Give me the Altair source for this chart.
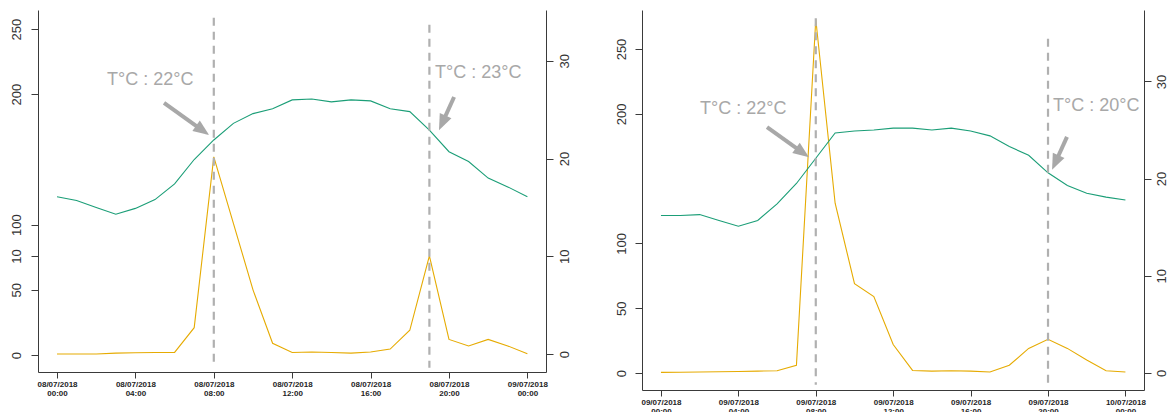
import json
import math
import altair as alt
import pandas as pd

HOURS = list(range(25))

# 08/07/2018 : temperature (°C, right axis) and counts (left axis), hourly
temp_day1 = [16.1, 15.7, 15.0, 14.3, 14.9, 15.8, 17.4, 19.9, 21.9, 23.6, 24.6, 25.1, 26.0,
             26.1, 25.8, 26.0, 25.9, 25.1, 24.8, 22.9, 20.7, 19.7, 18.0, 17.1, 16.1]
count_day1 = [0.8, 0.8, 0.8, 1.5, 1.8, 2.0, 2.0, 21, 152, 101, 50, 9, 2.0,
              2.3, 2.0, 1.5, 2.3, 4.6, 19, 76, 12, 7, 12, 7, 1.0]

# 09/07/2018
temp_day2 = [16.2, 16.2, 16.3, 15.7, 15.1, 15.7, 17.4, 19.5, 22.1, 24.7, 24.9, 25.0, 25.2,
             25.2, 25.0, 25.2, 24.9, 24.4, 23.3, 22.4, 20.6, 19.3, 18.5, 18.1, 17.8]
count_day2 = [0.5, 0.6, 0.8, 1.0, 1.2, 1.5, 1.8, 6, 273, 131, 69, 59, 22,
              2.0, 1.5, 1.8, 1.5, 0.8, 6, 19, 26, 19, 10, 1.8, 0.8]

X_TICKS = [0, 4, 8, 12, 16, 20, 24]
TIME_LABELS = ["00:00", "04:00", "08:00", "12:00", "16:00", "20:00", "00:00"]
DATES_DAY1 = ["08/07/2018"] * 6 + ["09/07/2018"]
DATES_DAY2 = ["09/07/2018"] * 6 + ["10/07/2018"]

LEFT_TICKS = [0, 50, 100, 200, 250]
LEFT_LABELS = ["0", "50", "100", "200", "250"]
RIGHT_TICKS = [0, 10, 20, 30]

# marked hours with the temperature read there
marks_day1 = {"hour": [8, 19], "top": [34.4, 33.7], "bottom": [-1.4, -1.4]}
marks_day2 = {"hour": [8, 20], "top": [36.5, 34.4], "bottom": [-1.2, -1.2]}
notes_day1 = {"hour": [2.55, 19.29], "temp": [27.5, 28.25], "text": ["T°C : 22°C", "T°C : 23°C"]}
notes_day2 = {"hour": [2.02, 20.26], "temp": [26.6, 26.95], "text": ["T°C : 22°C", "T°C : 20°C"]}
arrows_day1 = {"h0": [5.46, 20.26], "t0": [25.7, 26.3], "h1": [7.76, 19.49], "t1": [22.4, 22.9]}
arrows_day2 = {"h0": [5.48, 20.98], "t0": [25.3, 24.3], "h1": [7.65, 20.21], "t1": [22.2, 20.9]}

GREEN = "#1b9e77"
YELLOW = "#e6ab02"
GREY = "#a8a8a8"
FONT = "Liberation Sans"
HEAD_LEN = 16


def lookup_expr(values, labels):
    return f"{json.dumps(labels)}[indexof({json.dumps(values)}, datum.value)]"


def panel(temp, count, dates, width, height, xdom, cdom, tdom,
          left_vals, left_labels, marks, notes, arrows, left_pad, right_pad):
    x_axis = alt.Axis(values=X_TICKS, labelExpr=lookup_expr(X_TICKS, [[d, t] for d, t in zip(dates, TIME_LABELS)]),
                      title=None, grid=False, labelFontSize=8, labelFontWeight="bold", labelColor="#1e1e1e",
                      labelLineHeight=9, tickSize=6, labelPadding=2, labelAngle=0,
                      labelFlush=False, labelOverlap=False)
    xs = alt.Scale(domain=xdom, nice=False, zero=False)
    cs = alt.Scale(domain=cdom, nice=False, zero=False)
    ts = alt.Scale(domain=tdom, nice=False, zero=False)
    left_axis = alt.Axis(orient="left", values=left_vals, labelExpr=lookup_expr(left_vals, left_labels),
                         title=None, grid=False, labelAngle=270, labelAlign="center", labelBaseline="bottom",
                         labelFontSize=13, tickSize=7, labelPadding=left_pad,
                         labelFlush=False, labelOverlap=False)
    right_axis = alt.Axis(orient="right", values=RIGHT_TICKS, title=None, grid=False, labelAngle=270,
                          labelAlign="center", labelBaseline="top", labelFontSize=13, tickSize=7,
                          labelPadding=right_pad, labelFlush=False, labelOverlap=False)

    series = pd.DataFrame({"hour": HOURS, "temp": temp, "count": count})

    count_line = alt.Chart(series).mark_line(color=YELLOW, strokeWidth=1.1).encode(
        x=alt.X("hour:Q", scale=xs, axis=x_axis),
        y=alt.Y("count:Q", scale=cs, axis=left_axis),
    )
    temp_line = alt.Chart(series).mark_line(color=GREEN, strokeWidth=1.1).encode(
        x=alt.X("hour:Q", scale=xs, axis=x_axis),
        y=alt.Y("temp:Q", scale=ts, axis=right_axis),
    )
    rules = alt.Chart(pd.DataFrame(marks)).mark_rule(color="#b0b0b0", strokeWidth=2.2, strokeDash=[8, 6]).encode(
        x=alt.X("hour:Q", scale=xs, axis=x_axis),
        y=alt.Y("top:Q", scale=ts, axis=right_axis),
        y2="bottom:Q",
    )
    texts = alt.Chart(pd.DataFrame(notes)).mark_text(
        align="left", baseline="alphabetic", fontSize=18, font=FONT, color=GREY
    ).encode(
        x=alt.X("hour:Q", scale=xs, axis=x_axis),
        y=alt.Y("temp:Q", scale=ts, axis=right_axis),
        text="text:N",
    )

    # arrow geometry in pixels per data unit, used to orient the heads
    kx = width / (xdom[1] - xdom[0])
    ky = height / (tdom[1] - tdom[0])
    arr = pd.DataFrame(arrows)
    ang, hs, ts_ = [], [], []
    for h0, t0, h1, t1 in zip(arr.h0, arr.t0, arr.h1, arr.t1):
        dx = (h1 - h0) * kx
        dy = -(t1 - t0) * ky
        n = math.hypot(dx, dy)
        ang.append(math.degrees(math.atan2(dx, -dy)) % 360)
        back = HEAD_LEN - 3
        hs.append(h1 - dx / n * back / kx)
        ts_.append(t1 + dy / n * back / ky)
    arr["angle"] = ang
    arr["hs"] = hs
    arr["ts"] = ts_

    shafts = alt.Chart(arr).mark_rule(color=GREY, strokeWidth=4).encode(
        x=alt.X("h0:Q", scale=xs, axis=x_axis),
        x2="hs:Q",
        y=alt.Y("t0:Q", scale=ts, axis=right_axis),
        y2="ts:Q",
    )
    heads = alt.Chart(arr).mark_point(
        shape="M0,0 L0.8,2 L-0.8,2 Z", filled=True, color=GREY, opacity=1, size=(HEAD_LEN ** 2),
        strokeWidth=0,
    ).encode(
        x=alt.X("h1:Q", scale=xs, axis=x_axis),
        y=alt.Y("t1:Q", scale=ts, axis=right_axis),
        angle=alt.Angle("angle:Q", scale=None),
    )

    temp_part = alt.layer(temp_line, rules, texts, shafts, heads)
    return alt.layer(count_line, temp_part).resolve_scale(y="independent").properties(width=width, height=height)


left_vals1 = LEFT_TICKS + [75.9]
left_labels1 = LEFT_LABELS + ["10"]

p1 = panel(temp_day1, count_day1, DATES_DAY1, 508, 362, [-0.97, 24.95], [-13.0, 264.6], [-1.84, 35.2],
           left_vals1, left_labels1, marks_day1, notes_day1, arrows_day1, 8, 5)
p2 = panel(temp_day2, count_day2, DATES_DAY2, 502, 380, [-0.98, 24.96], [-13.1, 280.1], [-1.75, 37.35],
           LEFT_TICKS, LEFT_LABELS, marks_day2, notes_day2, arrows_day2, 7, 4)

chart = alt.hconcat(p1, p2, spacing=96, bounds="flush").properties(
    padding={"left": 9, "top": 10, "right": 0, "bottom": 0},
    background="white",
).configure_view(stroke=None).configure_axis(
    labelFont=FONT, domainColor="#3a3a3a", tickColor="#3a3a3a", labelColor="#333333",
    domainWidth=1, tickWidth=1,
)

chart.save("out.html", embed_options={"renderer": "svg", "actions": False})
